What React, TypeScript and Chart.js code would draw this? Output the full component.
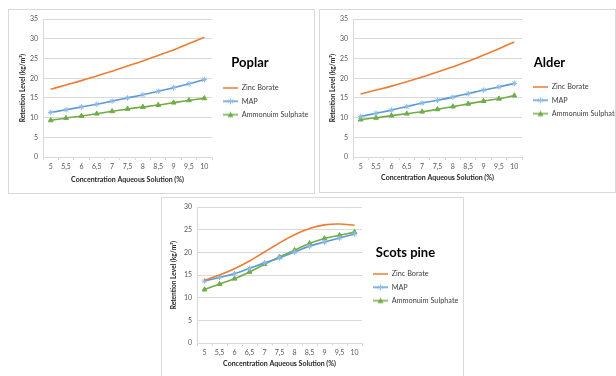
import React, { useEffect, useRef } from 'react';
import { Chart, registerables } from 'chart.js';

Chart.register(...registerables);

// ---------- data ----------
const concentrationLabels = ['5', '5,5', '6', '6,5', '7', '7,5', '8', '8,5', '9', '9,5', '10'];
const seriesNames = ['Zinc Borate', 'MAP', 'Ammonuim Sulphate'];

const poplarZincBorate = [17.2, 18.3, 19.4, 20.6, 21.8, 23.1, 24.4, 25.8, 27.2, 28.8, 30.4];
const poplarMAP = [11.3, 12.0, 12.7, 13.4, 14.2, 15.0, 15.8, 16.7, 17.6, 18.6, 19.7];
const poplarAmmonium = [9.3, 9.9, 10.4, 11.0, 11.6, 12.2, 12.7, 13.2, 13.8, 14.4, 14.9];

const alderZincBorate = [16.0, 17.0, 18.0, 19.1, 20.3, 21.6, 22.9, 24.3, 25.9, 27.5, 29.2];
const alderMAP = [10.3, 11.1, 11.9, 12.8, 13.7, 14.4, 15.2, 16.1, 17.0, 17.8, 18.7];
const alderAmmonium = [9.5, 9.95, 10.5, 11.0, 11.5, 12.1, 12.8, 13.5, 14.2, 14.8, 15.6];

const scotsZincBorate = [13.9, 15.0, 16.4, 18.1, 20.1, 22.1, 23.9, 25.3, 26.1, 26.3, 26.0];
const scotsMAP = [13.7, 14.5, 15.3, 16.5, 17.7, 18.8, 20.1, 21.4, 22.3, 23.2, 24.1];
const scotsAmmonium = [11.8, 13.0, 14.2, 15.7, 17.4, 19.0, 20.5, 22.0, 23.1, 23.8, 24.5];

const xAxisTitle = 'Concentration Aqueous Solution (%)';
const yAxisTitle = 'Retention Level (kg/m³)';

// ---------- styles ----------
const FONT = 'Lato, "Open Sans", "DejaVu Sans", sans-serif';
const ORANGE = '#ED7D31';
const BLUE = '#5B9BD5';
const BLUE_MARK = '#8DBCE6';
const GREEN = '#70AD47';
const GRID = '#d9d9d9';
const TICK = '#595959';

type Geo = {
  L: number; T: number; W: number; H: number;
  left: number; right: number; top: number; bottom: number;
  titleCX: number; titleY: number; firstItemY: number; lineStart: number;
  yTitleX: number; xTitleY: number;
};

function makeIcon(color: string, marker: string, margin: number, len: number, markColor: string) {
  const c = document.createElement('canvas');
  c.width = margin + len;
  c.height = 8;
  const ctx = c.getContext('2d')!;
  ctx.strokeStyle = color;
  ctx.lineWidth = 1.5;
  ctx.beginPath();
  ctx.moveTo(margin, 4);
  ctx.lineTo(margin + len, 4);
  ctx.stroke();
  const cx = margin + len / 2;
  if (marker === 'star') {
    ctx.strokeStyle = markColor;
    ctx.lineWidth = 1;
    ctx.beginPath();
    ctx.moveTo(cx, 1); ctx.lineTo(cx, 7);
    ctx.moveTo(cx - 2.6, 2.5); ctx.lineTo(cx + 2.6, 5.5);
    ctx.moveTo(cx - 2.6, 5.5); ctx.lineTo(cx + 2.6, 2.5);
    ctx.stroke();
  } else if (marker === 'triangle') {
    ctx.fillStyle = markColor;
    ctx.beginPath();
    ctx.moveTo(cx, 1);
    ctx.lineTo(cx + 3, 6.5);
    ctx.lineTo(cx - 3, 6.5);
    ctx.closePath();
    ctx.fill();
  }
  return c;
}

// lets the legend text run past the (narrow) box that centres its title
const widenLegend = {
  id: 'widenLegend',
  afterLayout(chart: any) {
    const lg = chart.legend;
    if (lg) lg.right = chart.width;
  },
};

function Panel({ title, zinc, map, amm, yMax, g }: { title: string; zinc: number[]; map: number[]; amm: number[]; yMax: number; g: Geo }) {
  const ref = useRef<HTMLCanvasElement>(null);
  useEffect(() => {
    const canvas = ref.current!;
    const W = g.W - 2;
    const H = g.H - 2;
    const legendW = 2 * (g.titleCX - g.right);
    const padRight = W - g.right - legendW;
    const labelPad = 6;
    const legendFont = 7.3;
    const margin = g.lineStart - (g.right + labelPad);
    const lineLen = 15;
    const icons = [
      makeIcon(ORANGE, 'none', margin, lineLen, ORANGE),
      makeIcon(BLUE, 'star', margin, lineLen, BLUE_MARK),
      makeIcon(GREEN, 'triangle', margin, lineLen, GREEN),
    ];
    const titleSize = 13;
    const titleLH = titleSize * 1.2;
    const tTop = g.titleY - g.top - titleSize / 2;
    const tBottom = g.firstItemY - g.top - titleLH - tTop - labelPad - legendFont / 2;
    const axisTitleSize = 7;
    const xTitlePadBottom = H - g.xTitleY - (axisTitleSize * 1.2) / 2;
    const yTitlePadTop = g.yTitleX - (6.6 * 1.2) / 2;

    const chart = new Chart(canvas, {
      type: 'line',
      plugins: [widenLegend],
      data: {
        labels: concentrationLabels,
        datasets: [
          { label: seriesNames[0], data: zinc, borderColor: ORANGE, backgroundColor: ORANGE, borderWidth: 1.6, pointRadius: 0, tension: 0.35, fill: false },
          { label: seriesNames[1], data: map, borderColor: BLUE, backgroundColor: BLUE_MARK, pointBorderColor: BLUE_MARK, borderWidth: 1.6, pointStyle: 'star', pointRadius: 2.8, pointBorderWidth: 1, tension: 0.35, fill: false },
          { label: seriesNames[2], data: amm, borderColor: GREEN, backgroundColor: GREEN, pointBorderColor: GREEN, borderWidth: 1.6, pointStyle: 'triangle', pointRadius: 2.8, pointBorderWidth: 1, tension: 0.35, fill: false },
        ],
      },
      options: {
        animation: false,
        responsive: false,
        devicePixelRatio: 1,
        layout: { padding: { left: 0, top: g.top, right: padRight, bottom: 0 } },
        plugins: {
          tooltip: { enabled: false },
          legend: {
            position: 'right',
            align: 'start',
            maxWidth: legendW,
            title: {
              display: true,
              text: title,
              color: '#000000',
              font: { family: FONT, size: titleSize, weight: 'bold' },
              padding: { top: tTop, bottom: tBottom },
            },
            labels: {
              usePointStyle: true,
              pointStyleWidth: margin + lineLen,
              padding: labelPad,
              color: '#404040',
              font: { family: FONT, size: legendFont },
              generateLabels: (ch: any) => {
                const items = (Chart.defaults.plugins.legend.labels as any).generateLabels(ch);
                items.forEach((it: any, i: number) => { it.pointStyle = icons[i]; });
                return items;
              },
            },
          },
        },
        scales: {
          x: {
            offset: true,
            grid: { display: true, drawOnChartArea: false, drawTicks: true, tickLength: 3, color: GRID, offset: true },
            border: { display: true, color: GRID, width: 1 },
            ticks: { color: TICK, font: { family: FONT, size: 7 }, padding: 3, maxRotation: 0, autoSkip: false },
            title: { display: true, text: xAxisTitle, color: '#262626', font: { family: FONT, size: axisTitleSize, weight: 'bold' }, padding: { top: 0, bottom: xTitlePadBottom } },
            afterFit: (s: any) => { s.height = H - g.bottom; },
          },
          y: {
            min: 0,
            max: yMax,
            grid: { color: GRID, lineWidth: 1, drawTicks: false },
            border: { display: true, color: GRID, width: 1 },
            ticks: { stepSize: 5, color: TICK, font: { family: FONT, size: 7 }, padding: 5 },
            title: { display: true, text: yAxisTitle, color: '#262626', font: { family: FONT, size: 6.6, weight: 'bold' }, padding: { top: yTitlePadTop, bottom: 0 } },
            afterFit: (s: any) => { s.width = g.left; },
          },
        },
      } as any,
    });
    return () => chart.destroy();
  }, []);
  return (
    <div style={{ position: 'absolute', left: g.L, top: g.T, width: g.W, height: g.H, boxSizing: 'border-box', border: '1px solid #d9d9d9', background: '#fff' }}>
      <canvas ref={ref} width={g.W - 2} height={g.H - 2} style={{ display: 'block' }} />
    </div>
  );
}

const poplarGeo: Geo = { L: 8, T: 9, W: 307, H: 185, left: 34, right: 203, top: 8, bottom: 147, titleCX: 241, titleY: 53, firstItemY: 78, lineStart: 214, yTitleX: 14, xTitleY: 170 };
const alderGeo: Geo = { L: 319, T: 9, W: 297, H: 184, left: 33, right: 202, top: 8, bottom: 147, titleCX: 229.5, titleY: 53, firstItemY: 77, lineStart: 213, yTitleX: 13, xTitleY: 168 };
const scotsGeo: Geo = { L: 161, T: 197, W: 303, H: 182, left: 35, right: 200, top: 8, bottom: 145, titleCX: 243.5, titleY: 55, firstItemY: 76, lineStart: 211, yTitleX: 12, xTitleY: 166 };

export default function App() {
  return (
    <div style={{ position: 'fixed', left: 0, top: 0, width: 616, height: 376, background: '#ffffff', overflow: 'hidden' }}>
      <Panel title="Poplar" zinc={poplarZincBorate} map={poplarMAP} amm={poplarAmmonium} yMax={35} g={poplarGeo} />
      <Panel title="Alder" zinc={alderZincBorate} map={alderMAP} amm={alderAmmonium} yMax={35} g={alderGeo} />
      <Panel title="Scots pine" zinc={scotsZincBorate} map={scotsMAP} amm={scotsAmmonium} yMax={30} g={scotsGeo} />
    </div>
  );
}
